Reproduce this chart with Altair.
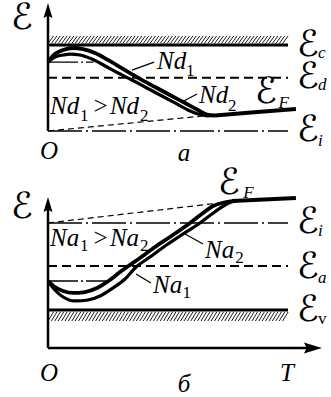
import altair as alt
import numpy as np
import pandas as pd

# ---------------- data (T and energy in arbitrary units) ----------------
# panel a: n-type semiconductor, energy measured from the intrinsic level
a_nd1_T = [0, 0.29, 0.63, 1.04, 1.46, 1.96, 2.5, 3.0, 3.42, 3.83, 4.46, 5.08, 5.71, 6.25, 6.62, 6.96]
a_nd1_E = [8.02, 8.95, 9.42, 9.65, 9.53, 9.07, 8.26, 7.44, 6.74, 6.05, 5.12, 4.19, 3.26, 2.44, 1.92, 1.80]
a_nd2_T = [0, 0.29, 0.63, 0.92, 1.33, 1.83, 2.38, 2.92, 3.42, 4.04, 4.67, 5.29, 5.83, 6.25, 6.63, 6.96]
a_nd2_E = [8.02, 8.60, 8.84, 8.95, 8.84, 8.37, 7.56, 6.74, 6.05, 5.12, 4.19, 3.26, 2.44, 1.98, 1.77, 1.80]
a_tail_T = [6.96, 8.6, 10.33]
a_tail_E = [1.80, 2.18, 2.56]
a_intr_T = [0, 6.6]
a_intr_E = [0, 1.78]
a_levels = {"c": 10.0, "d": 6.2, "i": 0.0}
a_half_E = 8.02          # (Ec + Ed) / 2
a_half_T = [0, 1.9]

# panel b: p-type semiconductor, energy measured from the valence band edge
b_na2_T = [0, 0.29, 0.63, 1.04, 1.54, 2.04, 2.58, 3.0, 3.29, 3.83, 4.46, 5.08, 5.92, 6.46, 6.88, 7.25, 7.67]
b_na2_E = [3.37, 2.67, 2.21, 1.98, 2.09, 2.56, 3.49, 4.42, 5.0, 6.05, 7.33, 8.49, 10.12, 11.28, 12.09, 12.44, 12.67]
b_na1_T = [0, 0.29, 0.63, 1.13, 1.67, 2.17, 2.71, 3.21, 3.67, 4.25, 4.88, 5.5, 6.33, 6.83, 7.25, 7.58, 7.83]
b_na1_E = [3.37, 2.33, 1.51, 1.05, 1.16, 1.63, 2.56, 3.60, 5.0, 6.16, 7.44, 8.60, 10.12, 11.16, 11.98, 12.5, 12.67]
b_tail_T = [7.67, 9.0, 10.33]
b_tail_E = [12.67, 12.85, 13.02]
b_intr_T = [0, 7.5]
b_intr_E = [10.12, 12.56]
b_levels = {"i": 10.12, "a": 5.12, "v": 0.0}
b_half_E = 3.37
b_half_T = [0, 2.6]

T_END = 10.0             # right end of the level lines

# ---------------- layout ----------------
W = 331
H_A, H_B = 190, 207
T_PX, E_PX = 24.0, 8.6   # pixels per unit
X0 = 48                  # column of T = 0
A_E0, B_E0 = 130, 119    # row of energy 0 inside each panel
B_AXIS_E = -4.42         # T axis of panel b
FONT = "Liberation Serif"
SYM_FONT = "DejaVu Sans"

xs = alt.Scale(domain=[-X0 / T_PX, (W - X0) / T_PX], nice=False, zero=False)


def yscale(h, e0):
    return alt.Scale(domain=[-(h - e0) / E_PX, e0 / E_PX], nice=False, zero=False)


def enc(ys, **kw):
    return dict(x=alt.X("T:Q", scale=xs, axis=None), y=alt.Y("E:Q", scale=ys, axis=None), **kw)


def curve(T, E, ys, width, dash=None, interp="monotone"):
    df = pd.DataFrame({"T": T, "E": E, "i": range(len(T))})
    kw = dict(color="black", strokeWidth=width, interpolate=interp, strokeCap="butt")
    if dash:
        kw["strokeDash"] = dash
    return alt.Chart(df).mark_line(**kw).encode(**enc(ys, order="i:Q"))


def hline(T0, T1, E, ys, width, dash=None):
    df = pd.DataFrame({"T": [T0], "T2": [T1], "E": [E]})
    kw = dict(color="black", strokeWidth=width, strokeCap="butt")
    if dash:
        kw["strokeDash"] = dash
    return alt.Chart(df).mark_rule(**kw).encode(**enc(ys, x2="T2:Q"))


def segs(T0, E0, T1, E1, ys, width):
    df = pd.DataFrame({"T": T0, "E": E0, "T2": T1, "E2": E1})
    return alt.Chart(df).mark_rule(color="black", strokeWidth=width).encode(
        **enc(ys, x2="T2:Q", y2="E2:Q"))


def hatch(E_lo, E_hi, ys):
    starts = np.arange(0.0, T_END - 0.2, 3.4 / T_PX)
    n = len(starts)
    return segs(starts, [E_lo] * n, starts + 5.5 / T_PX, [E_hi] * n, ys, 0.9)


def arrow(T, E, shape, size, ys):
    df = pd.DataFrame({"T": [T], "E": [E]})
    return alt.Chart(df).mark_point(shape=shape, size=size, filled=True, color="black",
                                    opacity=1, strokeWidth=0).encode(**enc(ys))


def texts(rows, ys, size, style="italic", align="left", font=FONT):
    df = pd.DataFrame(rows, columns=["txt", "T", "E"])
    return alt.Chart(df).mark_text(align=align, baseline="alphabetic", font=font,
                                   fontSize=size, fontStyle=style, color="black").encode(
        **enc(ys, text="txt:N"))


UP = "M0,-1L0.6,1L0,0.7L-0.6,1Z"
RIGHT = "M1,0L-1,-0.6L-0.7,0L-1,0.6Z"
MAIN, SUB, SYM = 25, 17, 36
SCRIPT_E = "\u2130"
SUB_T = 11.25            # column of the level-name subscripts

# ---------------- panel a ----------------
ya = yscale(H_A, A_E0)
panel_a = alt.layer(
    hatch(a_levels["c"] + 0.17, a_levels["c"] + 1.05, ya),
    hline(0, T_END, a_levels["c"], ya, 3),
    hline(0, T_END, a_levels["d"], ya, 2, [9, 5]),
    hline(0, T_END, a_levels["i"], ya, 1.5, [34, 4, 2, 4]),
    hline(a_half_T[0], a_half_T[1], a_half_E, ya, 1.3, [30, 3, 2, 3]),
    curve(a_intr_T, a_intr_E, ya, 1.2, [6, 4], "linear"),
    curve(a_nd1_T, a_nd1_E, ya, 3.8),
    curve(a_nd2_T, a_nd2_E, ya, 3.2),
    curve(a_tail_T, a_tail_E, ya, 4, interp="linear"),
    # vertical axis with arrow
    segs([0], [0], [0], [13.5], ya, 2.5),
    arrow(0, 14.01, UP, 225, ya),
    # leaders
    segs([3.5, 5.58], [7.09, 3.37], [4.42, 6.21], [8.02, 4.30], ya, 1.3),
    texts([("Nd", 4.54, 7.21), ("Nd", 6.29, 3.26), ("Nd", 0.083, 1.98), (">", 1.83, 1.98),
           ("Nd", 2.58, 1.98)], ya, MAIN),
    texts([("1", 5.75, 6.40), ("2", 7.5, 2.33), ("1", 1.33, 1.16), ("2", 3.83, 1.16)], ya, SUB,
          style="normal"),
    texts([(SCRIPT_E, 10.375, 8.72), (SCRIPT_E, 10.375, 5.0), (SCRIPT_E, 10.375, -1.16),
           (SCRIPT_E, 8.625, 3.26)], ya, SYM, style="normal", font=SYM_FONT),
    texts([("c", SUB_T, 8.49), ("d", SUB_T, 4.77), ("i", SUB_T, -1.74), ("F", 9.6, 2.67)],
          ya, SUB),
    texts([(SCRIPT_E, -1.083, 11.86)], ya, SYM, style="normal", align="center", font=SYM_FONT),
    texts([("O", 0.04, -3.26), ("a", 5.67, -3.49)], ya, MAIN, align="center"),
).properties(width=W, height=H_A)

# ---------------- panel b ----------------
yb = yscale(H_B, B_E0)
panel_b = alt.layer(
    hatch(-1.28, -0.23, yb),
    hline(0, T_END, b_levels["v"], yb, 3),
    hline(0, T_END, b_levels["a"], yb, 2, [9, 5]),
    hline(0, T_END, b_levels["i"], yb, 1.5, [34, 4, 2, 4]),
    hline(b_half_T[0], b_half_T[1], b_half_E, yb, 1.3, [30, 3, 2, 3]),
    curve(b_intr_T, b_intr_E, yb, 1.2, [6, 4], "linear"),
    curve(b_na2_T, b_na2_E, yb, 3.8),
    curve(b_na1_T, b_na1_E, yb, 3.2),
    curve(b_tail_T, b_tail_E, yb, 4, interp="linear"),
    # axes with arrows
    segs([0, 0], [B_AXIS_E, B_AXIS_E], [0, 10.9], [11.9, B_AXIS_E], yb, 2.5),
    arrow(0, 12.27, UP, 225, yb),
    arrow(11.04, B_AXIS_E, RIGHT, 324, yb),
    # leaders
    segs([5.71, 3.67], [8.84, 4.19], [6.46, 4.29], [7.67, 3.14], yb, 1.3),
    texts([("Na", 6.54, 6.05), ("Na", 4.375, 1.98), ("Na", 0.083, 7.44), (">", 1.83, 7.44),
           ("Na", 2.58, 7.44)], yb, MAIN),
    texts([("2", 7.8, 5.47), ("1", 5.6, 1.40), ("1", 1.33, 6.86), ("2", 3.83, 6.86)], yb, SUB,
          style="normal"),
    texts([(SCRIPT_E, 10.375, 8.95), (SCRIPT_E, 10.375, 3.72), (SCRIPT_E, 10.375, -1.28),
           (SCRIPT_E, 7.08, 13.49)], yb, SYM, style="normal", font=SYM_FONT),
    texts([("i", SUB_T, 8.6), ("a", SUB_T, 3.14), ("F", 8.14, 13.02)], yb, SUB),
    texts([("v", SUB_T, -1.63)], yb, SUB, style="normal"),
    texts([(SCRIPT_E, -1.083, 10.7)], yb, SYM, style="normal", align="center", font=SYM_FONT),
    texts([("O", 0.04, -8.26), ("T", 9.96, -8.26), ("\u0431", 5.67, -9.53)], yb, MAIN,
          align="center"),
).properties(width=W, height=H_B)

chart = alt.vconcat(panel_a, panel_b, spacing=0, bounds="flush").properties(
    padding=0, background="white"
).configure_view(stroke=None)

chart.save("out.html", embed_options={"renderer": "svg", "actions": False})
